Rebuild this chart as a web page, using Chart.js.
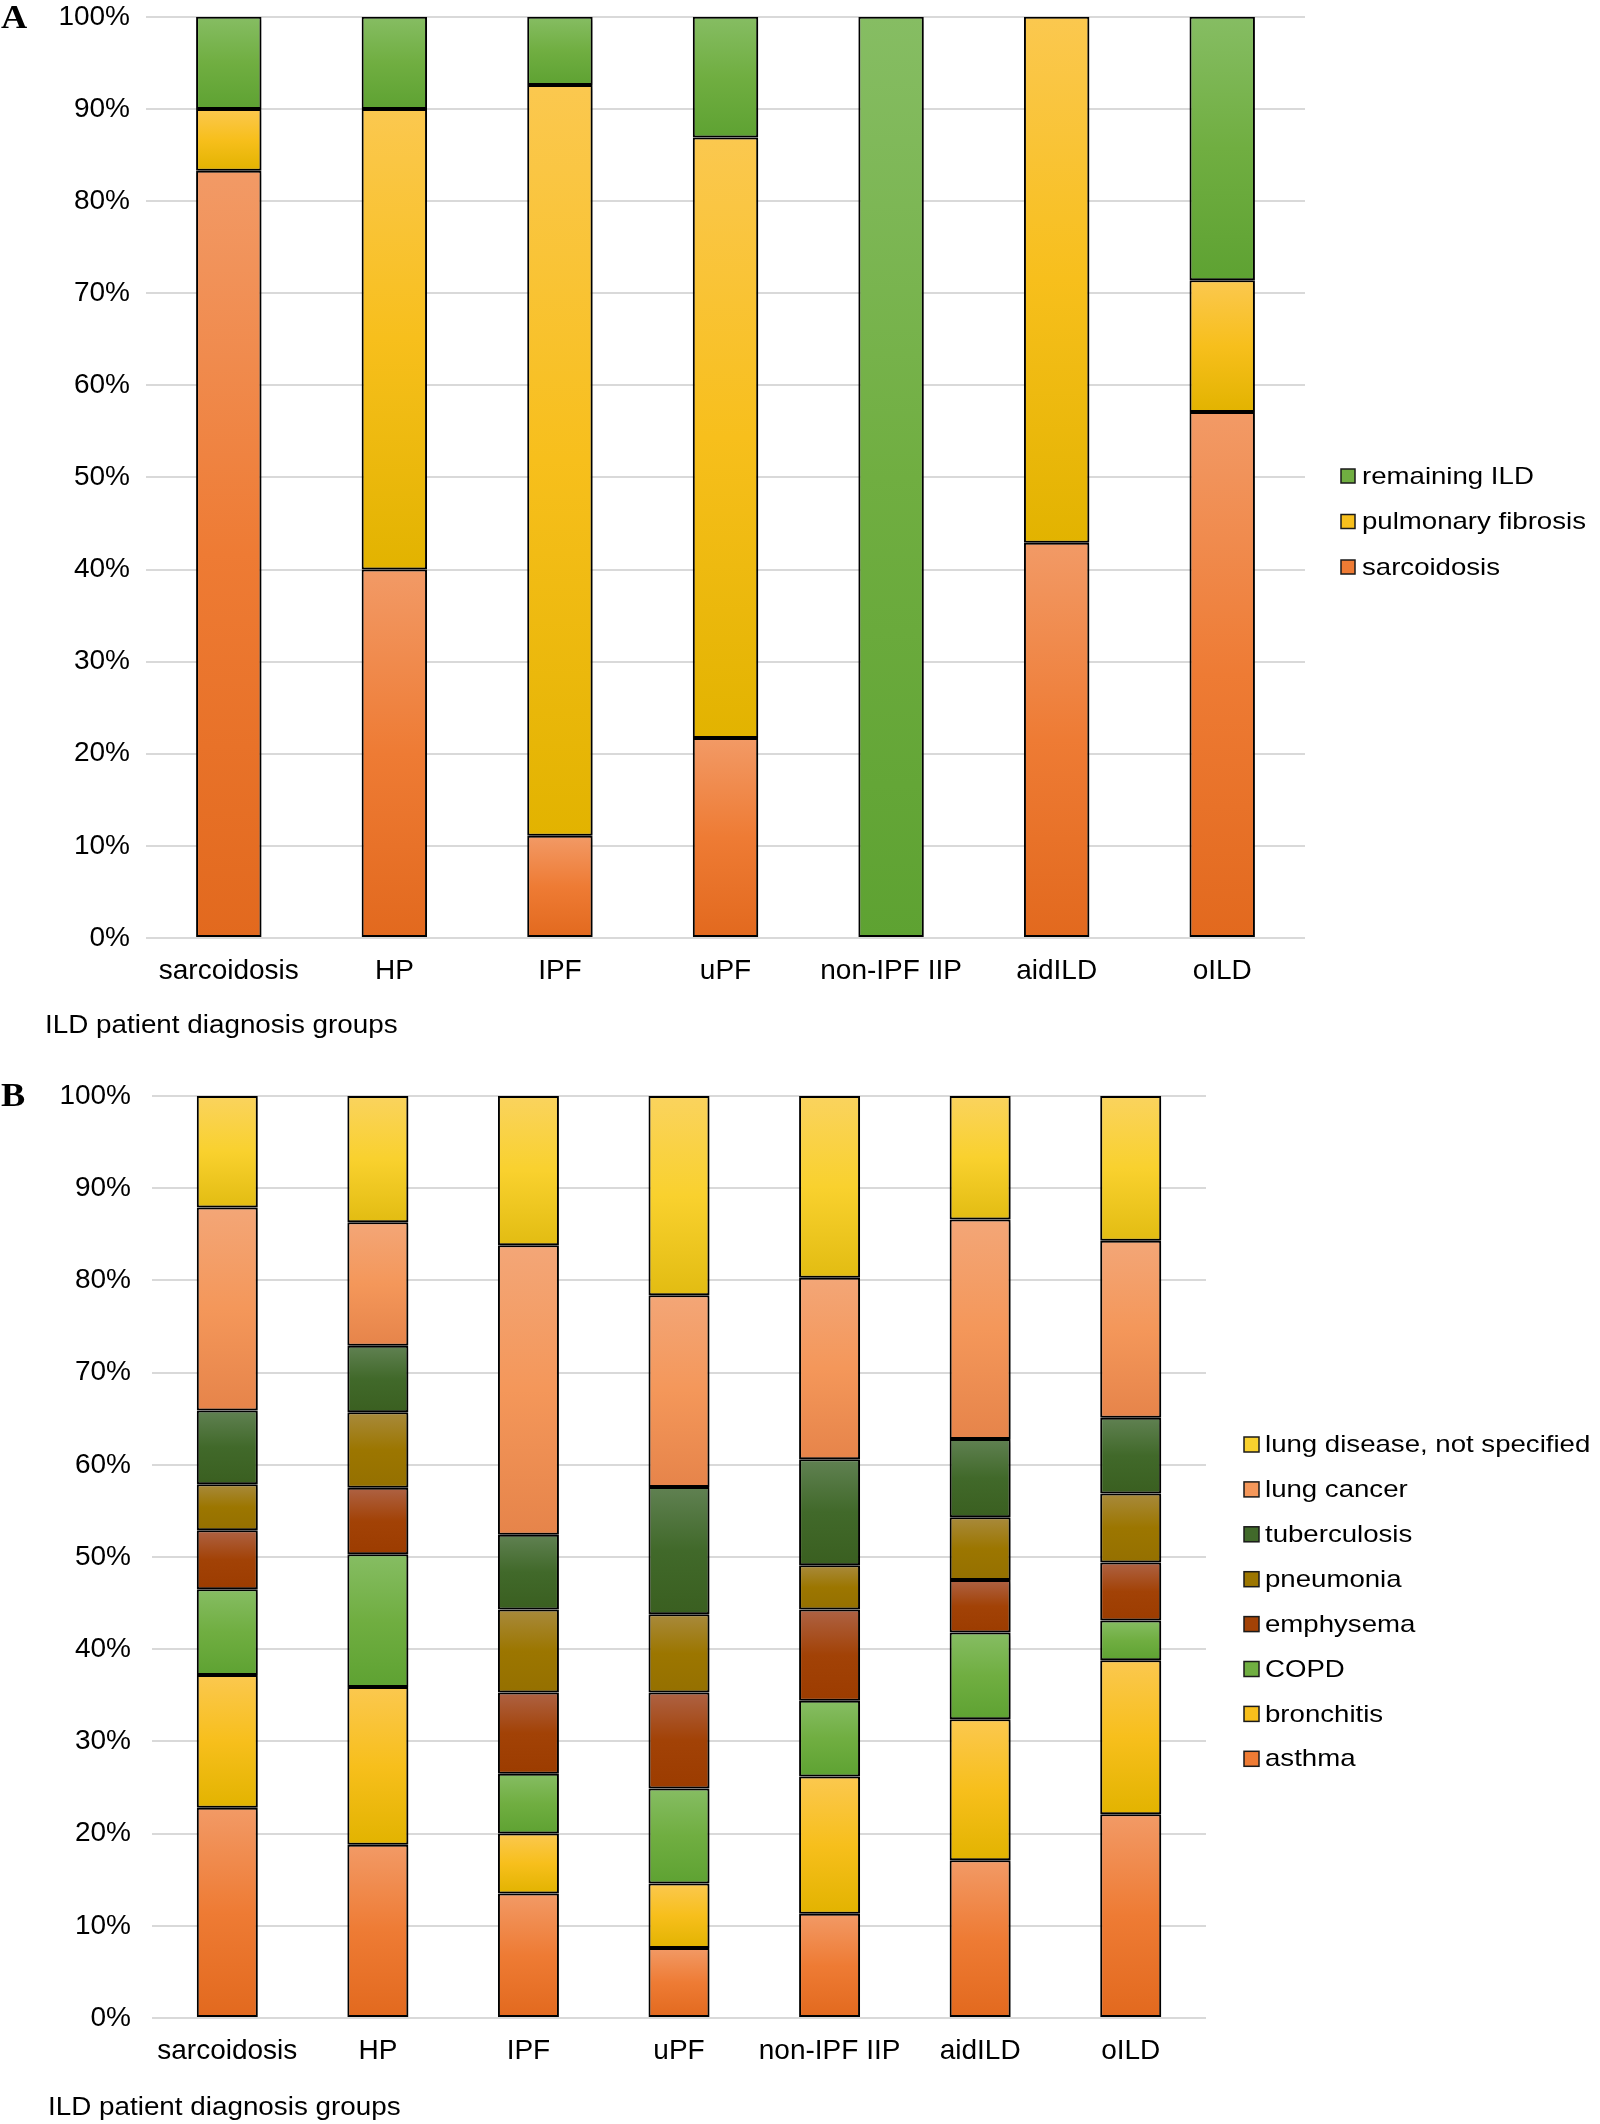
<!DOCTYPE html>
<html><head><meta charset="utf-8">
<script src="https://cdn.jsdelivr.net/npm/chart.js@4.4.1/dist/chart.umd.min.js"></script>
<style>
html,body{margin:0;padding:0;background:#fff;}
body{width:1600px;height:2124px;position:relative;overflow:hidden;}
#wa{position:absolute;left:0;top:0;width:1600px;height:1060px;}
#wb{position:absolute;left:0;top:1060px;width:1600px;height:1064px;}
</style></head><body>
<div id="wa"><canvas id="ca"></canvas></div>
<div id="wb"><canvas id="cb"></canvas></div>
<script>
// ---------- data ----------
const groups = ['sarcoidosis', 'HP', 'IPF', 'uPF', 'non-IPF IIP', 'aidILD', 'oILD'];
const yTickLabels = ['0%', '10%', '20%', '30%', '40%', '50%', '60%', '70%', '80%', '90%', '100%'];
const axisTitle = 'ILD patient diagnosis groups';

// Panel A (share of patients, %)
const sarcoidosisA       = [83.3, 40.0, 11.1, 21.7, 0.0, 42.9, 57.1];
const pulmonaryFibrosisA = [ 6.7, 50.0, 81.5, 65.2, 0.0, 57.1, 14.3];
const remainingILDA      = [10.0, 10.0,  7.4, 13.1, 100.0, 0.0, 28.6];

// Panel B (share of patients, %)
const asthma       = [22.8, 18.8, 13.5,  7.6, 11.3, 17.1, 22.1];
const bronchitis   = [14.4, 17.1,  6.5,  7.0, 14.9, 15.3, 16.7];
const copd         = [ 9.3, 14.4,  6.5, 10.3,  8.2,  9.4,  4.3];
const emphysema    = [ 6.4,  7.2,  8.8, 10.4,  9.9,  5.7,  6.3];
const pneumonia    = [ 5.0,  8.2,  9.0,  8.5,  4.8,  6.8,  7.5];
const tuberculosis = [ 8.0,  7.2,  8.1, 13.8, 11.5,  8.5,  8.2];
const lungCancer   = [22.0, 13.4, 31.4, 20.8, 19.7, 23.8, 19.2];
const notSpecified = [12.1, 13.7, 16.2, 21.6, 19.7, 13.4, 15.7];

// ---------- styles ----------
const FONT = '"Liberation Sans", Arial, sans-serif';
const C = {
  orange:  ['#F29A66', '#EE7B34', '#E2691E'],
  gold:    ['#FBC84F', '#F7BF1C', '#E2B300'],
  green:   ['#86BD63', '#70AE41', '#5EA232'],
  brown:   ['#AE6244', '#A24206', '#9C3C00'],
  olive:   ['#A88A3C', '#9C7600', '#957000'],
  dkgreen: ['#608152', '#41692A', '#3A5F20'],
  salmon:  ['#F3A677', '#F4975A', '#E6844A'],
  yellow:  ['#FAD35E', '#F9D12E', '#E2BC12']
};

function gradFill(stops) {
  return function (ctx) {
    if (ctx.type !== 'data') return stops[1];
    const chart = ctx.chart;
    const ys = chart.scales && chart.scales.y;
    if (!ys || !chart.chartArea) return stops[1];
    const ds = chart.data.datasets;
    let start = 0;
    for (let k = 0; k < ctx.datasetIndex; k++) start += ds[k].data[ctx.dataIndex];
    const end = start + ds[ctx.datasetIndex].data[ctx.dataIndex];
    const y0 = ys.getPixelForValue(end), y1 = ys.getPixelForValue(start);
    if (!isFinite(y0) || !isFinite(y1) || y1 - y0 < 0.5) return stops[1];
    const g = chart.ctx.createLinearGradient(0, y0, 0, y1);
    g.addColorStop(0, stops[0]);
    g.addColorStop(0.5, stops[1]);
    g.addColorStop(1, stops[2]);
    return g;
  };
}

function mkDataset(label, data, stops) {
  return {
    label: label,
    data: data,
    backgroundColor: gradFill(stops),
    legendColor: stops[1],
    borderColor: '#000',
    borderWidth: 2,
    borderSkipped: false,
    barPercentage: 1.0
  };
}

const shadowPlugin = {
  id: 'barShadow',
  beforeDatasetsDraw(chart) {
    const c = chart.ctx;
    c.save();
    c.shadowColor = 'rgba(0,0,0,0.30)';
    c.shadowBlur = 4;
    c.shadowOffsetX = 2;
    c.shadowOffsetY = 2;
  },
  afterDatasetsDraw(chart) { chart.ctx.restore(); }
};

function stretchedText(c, txt, x, y, font, sx, baseline) {
  c.save();
  c.font = font;
  c.textBaseline = baseline;
  c.textAlign = 'left';
  c.fillStyle = '#000';
  c.translate(x, y);
  c.scale(sx, 1);
  c.fillText(txt, 0, 0);
  c.restore();
}

const annotPlugin = {
  id: 'annot',
  afterDraw(chart, args, o) {
    const c = chart.ctx;
    stretchedText(c, o.letter, o.letterX, o.letterY, 'bold 33px "Liberation Serif", "Times New Roman", serif', 1.1, 'alphabetic');
    stretchedText(c, axisTitle, o.titleX, o.titleY, '26px ' + FONT, 1.07, 'middle');
    const ds = chart.data.datasets;
    for (let i = 0; i < ds.length; i++) {
      const d = ds[ds.length - 1 - i];
      const y = o.legendY0 + i * o.legendStep;
      c.save();
      c.fillStyle = d.legendColor;
      c.fillRect(o.boxX, y - o.box / 2, o.box, o.box);
      c.lineWidth = 1.5;
      c.strokeStyle = '#1a1a1a';
      c.strokeRect(o.boxX, y - o.box / 2, o.box, o.box);
      c.restore();
      stretchedText(c, d.label, o.textX, y + 1, '24px ' + FONT, 1.15, 'middle');
    }
  }
};

function mkOptions(p) {
  return {
    responsive: true,
    maintainAspectRatio: false,
    animation: false,
    events: [],
    layout: { padding: { left: 0, top: p.top, right: p.right, bottom: p.bottom } },
    datasets: { bar: { categoryPercentage: p.cat } },
    scales: {
      x: {
        stacked: true,
        grid: { display: false, drawTicks: false },
        border: { display: false },
        ticks: { color: '#000', font: { family: FONT, size: 28 }, padding: 16, maxRotation: 0, autoSkip: false },
        afterFit(s) { s.height = 60; }
      },
      y: {
        stacked: true,
        min: 0, max: 100,
        grid: { color: '#D9D9D9', lineWidth: 2, drawTicks: true, tickLength: p.tickLen, tickColor: 'rgba(0,0,0,0)' },
        border: { display: false },
        ticks: {
          stepSize: 10, color: '#000', padding: 0,
          font: { family: FONT, size: 28 },
          callback: (v) => yTickLabels[Math.round(v / 10)]
        },
        afterFit(s) { s.width = p.yWidth; }
      }
    },
    plugins: {
      legend: { display: false },
      tooltip: { enabled: false },
      annot: p.annot
    }
  };
}

new Chart(document.getElementById('ca'), {
  type: 'bar',
  data: {
    labels: groups,
    datasets: [
      mkDataset('sarcoidosis', sarcoidosisA, C.orange),
      mkDataset('pulmonary fibrosis', pulmonaryFibrosisA, C.gold),
      mkDataset('remaining ILD', remainingILDA, C.green)
    ]
  },
  options: mkOptions({
    top: 16, right: 295, bottom: 62, cat: 0.395, yWidth: 146, tickLen: 16,
    annot: { letter: 'A', letterX: 1, letterY: 28, titleX: 45, titleY: 1026,
             legendY0: 476, legendStep: 45.5, boxX: 1341, box: 14, textX: 1362 }
  }),
  plugins: [shadowPlugin, annotPlugin]
});

new Chart(document.getElementById('cb'), {
  type: 'bar',
  data: {
    labels: groups,
    datasets: [
      mkDataset('asthma', asthma, C.orange),
      mkDataset('bronchitis', bronchitis, C.gold),
      mkDataset('COPD', copd, C.green),
      mkDataset('emphysema', emphysema, C.brown),
      mkDataset('pneumonia', pneumonia, C.olive),
      mkDataset('tuberculosis', tuberculosis, C.dkgreen),
      mkDataset('lung cancer', lungCancer, C.salmon),
      mkDataset('lung disease, not specified', notSpecified, C.yellow)
    ]
  },
  options: mkOptions({
    top: 36, right: 394, bottom: 46, cat: 0.405, yWidth: 152, tickLen: 21,
    annot: { letter: 'B', letterX: 1, letterY: 46, titleX: 48, titleY: 1048,
             legendY0: 384.5, legendStep: 44.9, boxX: 1244, box: 15, textX: 1265 }
  }),
  plugins: [shadowPlugin, annotPlugin]
});
</script>
</body></html>
